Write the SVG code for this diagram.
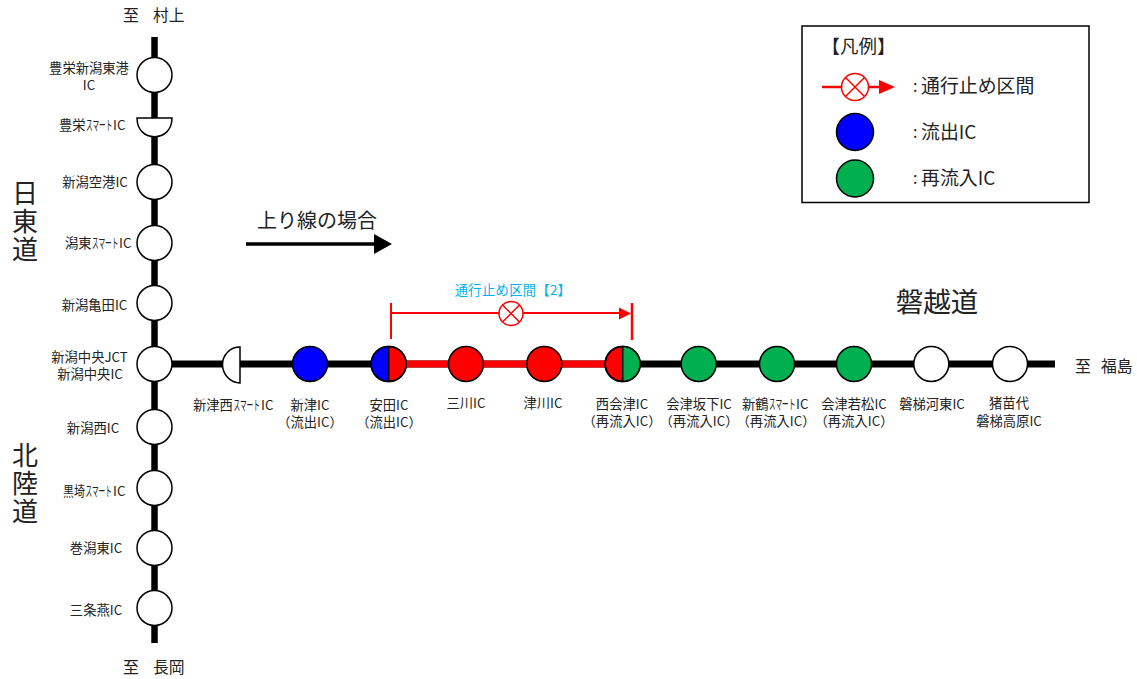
<svg xmlns="http://www.w3.org/2000/svg" width="1137" height="679" viewBox="0 0 1137 679">
<style>
text{font-family:"Noto Sans CJK JP","Noto Sans",sans-serif;fill:#222}
.l{font-size:13.3px;text-anchor:middle}
.t{font-size:13.3px}
.d{font-size:15.8px}
.r{font-size:26px;writing-mode:vertical-rl;letter-spacing:2.2px}
.g{font-size:18.9px}
.c{font-size:16px}
.n{stroke:#000;stroke-width:1.5;fill:#fff}
.k{stroke:#000;stroke-width:1.5;fill:none}
</style>
<rect width="1137" height="679" fill="#fff"/>
<g id="connectors">
<path d="M154.500 37V643" stroke="#000" stroke-width="6.500" fill="none"/>
<path d="M154 364H1055" stroke="#000" stroke-width="7" fill="none"/>
<path d="M389 364H622" stroke="#f00" stroke-width="7" fill="none"/>
<path d="M391 303V339M391 313H620" stroke="#f00" stroke-width="2" fill="none"/>
<path d="M632 303V340" stroke="#f00" stroke-width="2.500" fill="none"/>
<path d="M631 313.500L619 307.500V319.500Z" fill="#f00"/>
<circle cx="511" cy="313.500" r="12" fill="#fff" stroke="#f00" stroke-width="1.500"/>
<path d="M502.500 305L519.500 322M519.500 305L502.500 322" stroke="#f00" stroke-width="1.500"/>
<path d="M246 244H376" stroke="#000" stroke-width="3.500"/>
<path d="M392 244L374 234V254Z" fill="#000"/>
</g>
<g id="n-toyosakaniigatahigashiko"><circle class="n" cx="154.500" cy="75" r="17.500"/><text class="l" x="89" y="73">豊栄新潟東港</text><text class="l" x="89" y="90">IC</text></g>
<g id="n-toyosaka-si"><path class="n" d="M137 118H172C172 130 164 136.700 154.500 136.700C145 136.700 137 130 137 118Z"/><text class="t" x="59" y="130">豊栄</text><text class="t" transform="translate(86 130) scale(.5 1)">スマート</text><text class="t" x="113" y="130">IC</text></g>
<g id="n-niigatakuko"><circle class="n" cx="154.500" cy="182" r="17.500"/><text class="l" x="95" y="187">新潟空港IC</text></g>
<g id="n-katahigashi-si"><circle class="n" cx="154.500" cy="243" r="17.500"/><text class="t" x="65" y="248">潟東</text><text class="t" transform="translate(92 248) scale(.5 1)">スマート</text><text class="t" x="119" y="248">IC</text></g>
<g id="n-kameda"><circle class="n" cx="154.500" cy="303" r="17.500"/><text class="l" x="94.500" y="310">新潟亀田IC</text></g>
<g id="n-chuo"><circle class="n" cx="154.500" cy="364" r="17.500"/><text class="l" x="89.500" y="362">新潟中央JCT</text><text class="l" x="90" y="379">新潟中央IC</text></g>
<g id="n-niigatanishi"><circle class="n" cx="154.500" cy="427" r="17.500"/><text class="l" x="93" y="433">新潟西IC</text></g>
<g id="n-kurosaki"><circle class="n" cx="154.500" cy="488" r="17.500"/><text class="t" transform="translate(63 496) scale(.82 1)">黒埼</text><text class="t" transform="translate(85.500 496) scale(.5 1)">スマート</text><text class="t" x="113" y="496">IC</text></g>
<g id="n-makikatahigashi"><circle class="n" cx="154.500" cy="548" r="17.500"/><text class="l" x="96" y="553">巻潟東IC</text></g>
<g id="n-sanjotsubame"><circle class="n" cx="154.500" cy="608" r="17.500"/><text class="l" x="96" y="615">三条燕IC</text></g>
<g id="n-niitsunishi-si"><path class="n" d="M240 347C230 347 222.500 355 222.500 364.500C222.500 374 230 383 240 383Z"/><text class="t" x="193" y="410">新津西</text><text class="t" transform="translate(233.500 410) scale(.5 1)">スマート</text><text class="t" x="261" y="410">IC</text></g>
<g id="n-niitsu"><circle class="n" cx="310" cy="364" r="17.500" style="fill:#00f"/><text class="l" x="310" y="410">新津IC</text><text class="l" x="310" y="427">（流出IC）</text></g>
<g id="n-yasuda"><circle class="n" cx="388.700" cy="364" r="17.500" style="fill:#f00"/><path d="M388.700 346.500A17.500 17.500 0 0 0 388.700 381.500Z" fill="#00f"/><path class="k" d="M388.700 346.500V381.500"/><circle class="k" cx="388.700" cy="364" r="17.500"/><text class="l" x="389" y="410">安田IC</text><text class="l" x="389" y="427">（流出IC）</text></g>
<g id="n-mikawa"><circle class="n" cx="466" cy="364" r="17.500" style="fill:#f00"/><text class="l" x="466" y="408">三川IC</text></g>
<g id="n-tsugawa"><circle class="n" cx="544.300" cy="364" r="17.500" style="fill:#f00"/><text class="l" x="543" y="408">津川IC</text></g>
<g id="n-nishiaizu"><circle class="n" cx="622.700" cy="364" r="17.500" style="fill:#f00"/><path d="M622.700 346.500A17.500 17.500 0 0 1 622.700 381.500Z" fill="#00b050"/><path class="k" d="M622.700 346.500V381.500"/><circle class="k" cx="622.700" cy="364" r="17.500"/><text class="l" x="622" y="409">西会津IC</text><text class="l" x="622" y="426">（再流入IC）</text></g>
<g id="n-bange"><circle class="n" cx="698.700" cy="364" r="17.500" style="fill:#00b050"/><text class="l" x="699" y="409">会津坂下IC</text><text class="l" x="699" y="426">（再流入IC）</text></g>
<g id="n-shintsuru"><circle class="n" cx="777" cy="364" r="17.500" style="fill:#00b050"/><text class="t" x="742" y="409">新鶴</text><text class="t" transform="translate(769 409) scale(.5 1)">スマート</text><text class="t" x="796" y="409">IC</text><text class="l" x="776" y="426">（再流入IC）</text></g>
<g id="n-wakamatsu"><circle class="n" cx="854" cy="364" r="17.500" style="fill:#00b050"/><text class="l" x="854" y="409">会津若松IC</text><text class="l" x="854" y="426">（再流入IC）</text></g>
<g id="n-kawahigashi"><circle class="n" cx="931.300" cy="364" r="17.500"/><text class="l" x="932" y="409">磐梯河東IC</text></g>
<g id="n-inawashiro"><circle class="n" cx="1010" cy="364" r="17.500"/><text class="l" x="1009" y="408">猪苗代</text><text class="l" x="1009" y="426">磐梯高原IC</text></g>
<g id="labels">
<text class="d" x="123" y="21">至</text><text class="d" x="153" y="21">村上</text>
<text class="d" x="123" y="673">至</text><text class="d" x="153" y="673">長岡</text>
<text class="d" x="1075" y="372">至</text><text class="d" x="1101" y="372">福島</text>
<text class="r" x="25" y="180">日東道</text>
<text class="r" x="25" y="442">北陸道</text>
<text x="937" y="312" style="font-size:27.500px;text-anchor:middle">磐越道</text>
<text x="317" y="228" style="font-size:20px;text-anchor:middle">上り線の場合</text>
<text class="l" x="513" y="295" style="fill:#00b0f0;letter-spacing:.3px">通行止め区間【2】</text>
</g>
<g id="legend">
<rect x="802" y="26" width="287" height="176.500" fill="none" stroke="#000" stroke-width="1.500"/>
<text x="821.500" y="52.500" style="font-size:18.500px">【凡例】</text>
<path d="M822 87H880" stroke="#f00" stroke-width="2.500"/>
<path d="M895 87L879 80V94Z" fill="#f00"/>
<circle cx="855" cy="87" r="13.500" fill="#fff" stroke="#f00" stroke-width="1.500"/>
<path d="M845.500 77.500L864.500 96.500M864.500 77.500L845.500 96.500" stroke="#f00" stroke-width="1.500"/>
<circle cx="855" cy="132" r="18.500" fill="#00f" stroke="#000" stroke-width="1.500"/>
<circle cx="855" cy="178.500" r="18.500" fill="#00b050" stroke="#000" stroke-width="1.500"/>
<text class="c" x="913" y="92">:</text><text class="g" x="921" y="93">通行止め区間</text>
<text class="c" x="913" y="138">:</text><text class="g" x="921" y="139">流出IC</text>
<text class="c" x="913" y="184">:</text><text class="g" x="921" y="185">再流入IC</text>
</g>
</svg>
